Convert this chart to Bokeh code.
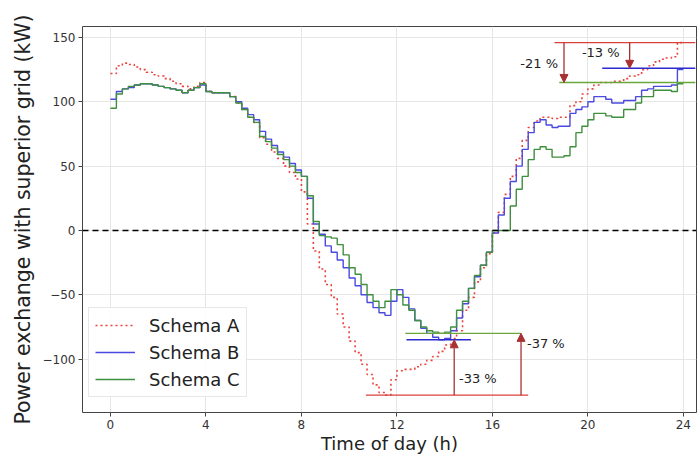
from bokeh.plotting import figure
from bokeh.models import Span, Arrow, NormalHead, Legend, LegendItem, Range1d, FixedTicker, Label
from bokeh.embed import file_html
from bokeh.resources import INLINE

# time grid (h), 15-minute steps
hours = [i * 0.25 for i in range(97)]

schema_a = [122, 128, 130, 129, 127, 125, 123, 121, 120, 118, 116, 114, 112, 110, 112, 115,
            108, 107, 107, 107, 104, 99, 94, 88, 84, 72, 67, 61, 56, 50, 45, 40,
            30, 5, -16, -30, -42, -52, -65, -75, -86, -95, -104, -112, -120, -126, -128, -116,
            -109, -108, -108, -106, -104, -101, -98, -94, -89, -84, -78, -62, -52, -40, -29, -18,
            -2, 14, 28, 42, 56, 70, 80, 85, 88, 88, 87, 88, 88, 97, 100, 106,
            110, 113, 115, 115, 116, 116, 118, 120, 121, 125, 128, 131, 133, 134, 135, 146, 146]

schema_b = [102, 108, 110, 111, 113, 114, 114, 113, 112, 111, 110, 109, 107, 109, 111, 113,
            108, 107, 107, 107, 104, 100, 95, 90, 86, 77, 71, 66, 61, 57, 52, 47,
            42, 25, 5, -3, -12, -17, -23, -29, -37, -43, -50, -56, -60, -64, -66, -55,
            -46, -52, -61, -70, -76, -80, -83, -85, -84, -78, -68, -57, -45, -36, -27, -17,
            -2, 12, 25, 38, 50, 63, 76, 84, 86, 82, 80, 81, 81, 91, 94, 96,
            100, 104, 104, 102, 99, 99, 101, 101, 104, 109, 110, 112, 112, 112, 113, 125, 125]

schema_c = [95, 106, 110, 112, 113, 114, 114, 113, 112, 111, 110, 109, 107, 109, 111, 114,
            108, 107, 107, 107, 104, 99, 94, 88, 84, 73, 69, 64, 59, 55, 50, 45,
            42, 27, 7, -4, -5, -6, -11, -19, -29, -34, -42, -50, -55, -60, -55, -46,
            -50, -58, -62, -70, -75, -78, -79, -80, -79, -75, -62, -55, -45, -35, -27, -17,
            0, 0, 0, 19, 32, 42, 55, 63, 65, 63, 57, 57, 58, 65, 76, 81,
            86, 91, 91, 89, 88, 88, 94, 94, 99, 104, 104, 109, 109, 109, 108, 114, 114]

# reference levels for the annotations
peak_a, peak_b, peak_c = 146, 126, 115
min_a, min_b, min_c = -128, -85, -80

x_ticks = [0, 4, 8, 12, 16, 20, 24]
y_ticks = [-100, -50, 0, 50, 100, 150]

FONT = "DejaVu Sans"

p = figure(frame_width=614, frame_height=386, output_backend="svg", toolbar_location=None,
           min_border_left=82, min_border_top=26, min_border_right=3, min_border_bottom=30,
           x_range=Range1d(-1.17, 24.55), y_range=Range1d(-141.5, 158.5))
p.background_fill_color = "white"
p.outline_line_color = "#444444"
p.outline_line_width = 1

for ax in (p.xaxis[0], p.yaxis[0]):
    ax.axis_line_color = None
    ax.major_tick_in = 0
    ax.major_tick_out = 4
    ax.minor_tick_out = 0
    ax.minor_tick_in = 0
    ax.major_tick_line_color = "#444444"
    ax.major_label_text_font = FONT
    ax.major_label_text_font_size = "12px"
    ax.major_label_text_color = "#333333"
    ax.axis_label_text_font = FONT
    ax.axis_label_text_font_style = "normal"
    ax.axis_label_text_color = "#222222"
    ax.major_label_standoff = 3
    ax.axis_label_standoff = 1

p.xaxis.ticker = FixedTicker(ticks=x_ticks)
p.yaxis.ticker = FixedTicker(ticks=y_ticks)
p.xaxis.axis_label = "Time of day (h)"
p.yaxis.axis_label = "Power exchange with superior grid (kW)"
p.xaxis.axis_label_text_font_size = "18px"
p.yaxis.axis_label_text_font_size = "20.5px"
p.yaxis.axis_label_standoff = 5
p.xaxis.major_label_overrides = {t: str(t) for t in x_ticks}
p.yaxis.major_label_overrides = {t: (str(t).replace("-", "\u2212")) for t in y_ticks}

p.xgrid.grid_line_color = "#e6e6e6"
p.ygrid.grid_line_color = "#e6e6e6"

p.add_layout(Span(location=0, dimension="width", line_color="black", line_width=1.5, line_dash="6 4"))

ra = p.step(hours, schema_a, mode="after", line_color="#e8423a", line_width=1.6, line_dash="2 3")
rb = p.step(hours, schema_b, mode="after", line_color="#4a4ae0", line_width=1.4)
rc = p.step(hours, schema_c, mode="after", line_color="#3f8f3f", line_width=1.4)

# annotation lines
ann_red = "#d9403a"
ann_dark = "#a83232"
p.line([18.6, 24.5], [peak_a, peak_a], line_color=ann_red, line_width=1.4)
p.line([20.6, 24.5], [peak_b, peak_b], line_color="#2a2ad0", line_width=1.4)
p.line([18.8, 24.5], [peak_c, peak_c], line_color="#6aa83a", line_width=1.4)
p.line([10.7, 17.5], [min_a, min_a], line_color=ann_red, line_width=1.4)
p.line([12.4, 15.1], [min_b, min_b], line_color="#2a2ad0", line_width=1.4)
p.line([12.35, 17.2], [min_c, min_c], line_color="#6aa83a", line_width=1.4)

def arrow(x, y0, y1):
    p.add_layout(Arrow(end=NormalHead(size=8, fill_color=ann_dark, line_color=ann_dark),
                       x_start=x, y_start=y0, x_end=x, y_end=y1,
                       line_color=ann_dark, line_width=1.3))

arrow(19.0, peak_a, peak_c)
arrow(21.75, peak_a, peak_b)
arrow(14.4, min_a, min_b)
arrow(17.2, min_a, min_c)

def lab(x, y, t, align):
    p.add_layout(Label(x=x, y=y, text=t, text_font=FONT, text_font_size="13px",
                       text_color="#222222", text_align=align, text_baseline="middle"))

lab(18.75, 130, "-21 %", "right")
lab(19.75, 138, "-13 %", "left")
lab(14.6, -115, "-33 %", "left")
lab(17.45, -88, "-37 %", "left")

legend = Legend(items=[LegendItem(label="Schema A", renderers=[ra]),
                       LegendItem(label="Schema B", renderers=[rb]),
                       LegendItem(label="Schema C", renderers=[rc])],
                location=(6, 15))
legend.label_text_font = FONT
legend.label_text_font_size = "18px"
legend.label_text_color = "#222222"
legend.glyph_width = 40
legend.glyph_height = 20
legend.label_height = 22
legend.spacing = 5
legend.padding = 6
legend.margin = 0
legend.label_standoff = 14
legend.border_line_color = "#d0d0d0"
legend.background_fill_alpha = 0.85
p.add_layout(legend)

open("out.html", "w").write(file_html(p, INLINE))
